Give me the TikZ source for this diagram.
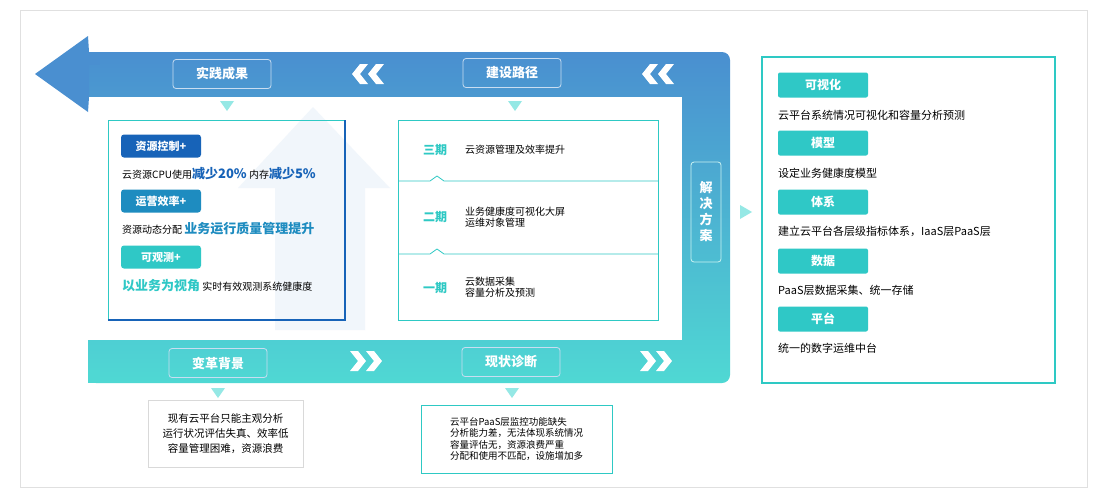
\documentclass[tikz,border=0pt]{standalone}
\usepackage{fontspec}
\setmainfont{Noto Sans CJK SC}
\usetikzlibrary{shadings}
\definecolor{bandblue}{HTML}{4A8FD0}
\definecolor{bandteal}{HTML}{4FD8D3}
\definecolor{tealc}{HTML}{2EC9C4}
\definecolor{tagA}{HTML}{1763B8}
\definecolor{tagB}{HTML}{1E8CC0}
\definecolor{tagC}{HTML}{2FC8C6}
\tikzset{
  lbl/.style={draw=white!70!bandblue,rounded corners=3pt,line width=0.8pt,text=white,font=\fontsize{13}{13}\selectfont\bfseries,inner sep=0pt,minimum width=98pt,minimum height=29pt},
  tag/.style={rounded corners=3pt,text=white,font=\fontsize{11}{11}\selectfont\bfseries,inner sep=0pt,minimum width=80pt,minimum height=23pt},
  rtag/.style={fill=tagC,rounded corners=2pt,text=white,font=\fontsize{12}{12}\selectfont\bfseries,inner sep=0pt,minimum width=90pt,minimum height=25pt},
  body/.style={font=\fontsize{10}{12}\selectfont,anchor=west,inner sep=0pt},
  tri/.style={fill=bandteal!60,draw=none},
  chevl/.pic={\fill[white] (-7,-10) -- (1,-10) -- (-7,0) -- (1,10) -- (-7,10) -- (-15,0) -- cycle;
              \fill[white] (9,-10) -- (17,-10) -- (9,0) -- (17,10) -- (9,10) -- (1,0) -- cycle;},
  chevr/.pic={\fill[white] (-17,-10) -- (-9,-10) -- (-1,0) -- (-9,10) -- (-17,10) -- (-9,0) -- cycle;
              \fill[white] (-1,-10) -- (7,-10) -- (15,0) -- (7,10) -- (-1,10) -- (7,0) -- cycle;}
}
\newcommand{\hl}[2]{{\fontsize{13}{13}\selectfont\bfseries\color{#1}#2}}
\begin{document}
\begin{tikzpicture}[x=1pt,y=-1pt]
\useasboundingbox (0,0) rectangle (1106,501);
\fill[white] (0,0) rectangle (1106,501);
\draw[black!12] (20,10) rectangle (1087,487);
% frame band
\shade[top color=bandblue,bottom color=bandteal,rounded corners=8pt] (88,52) -- (730,52) -- (730,383) -- (88,383) [sharp corners] -- cycle;
\fill[bandteal] (88,370) rectangle (100,383);
\fill[bandblue] (88,52) rectangle (100,65);
\fill[white] (88,97) rectangle (682,340);
\fill[bandblue] (89,52) -- (88,36) -- (35,74) -- (88,112) -- (89,97) -- cycle;
% labels
\node[lbl] (sj) at (222,74) {实践成果};
\node[lbl] (js) at (512,73) {建设路径};
\node[lbl] (bg) at (218,363) {变革背景};
\node[lbl] (xz) at (511,362) {现状诊断};
\node[draw=white!70!bandteal,rounded corners=3pt,line width=0.8pt,text=white,font=\fontsize{13}{16}\selectfont\bfseries,minimum width=30pt,minimum height=100pt,align=center,inner sep=0pt] (jj) at (706,212) {解\\决\\方\\案};
% chevrons
\pic at (367,74) {chevl};
\pic at (657,74) {chevl};
\pic at (367,361) {chevr};
\pic at (657,361) {chevr};
% triangles
\fill[tri] (220,101) -- (234,101) -- (227,111) -- cycle;
\fill[tri] (508,101) -- (522,101) -- (515,111) -- cycle;
\fill[tri] (211,388) -- (225,388) -- (218,398) -- cycle;
\fill[tri] (505,388) -- (519,388) -- (512,398) -- cycle;
\fill[tri] (740,205) -- (740,219) -- (752,212) -- cycle;
% left box
\fill[white] (108,120) rectangle (345,320);
\fill[bandblue!25,opacity=0.3] (313,107) -- (390,188) -- (365,188) -- (365,330) -- (275,330) -- (275,188) -- (238,188) -- cycle;
\draw[line width=1pt,tealc] (108,320) -- (108,120) -- (345,120);
\draw[line width=1.2pt,tagA] (108,320) -- (345,320) -- (345,120);
\node[tag,fill=tagA] (t1) at (161,146) {资源控制+};
\node[body] (l1) at (122,174) {云资源CPU使用\hl{tagA}{减少20\%} 内存\hl{tagA}{减少5\%}};
\node[tag,fill=tagB] (t2) at (161,201) {运营效率+};
\node[body] (l2) at (122,229) {资源动态分配 \hl{tagB}{业务运行质量管理提升}};
\node[tag,fill=tagC] (t3) at (161,257) {可观测+};
\node[body] (l3) at (122,286) {\hl{tagC}{以业务为视角} 实时有效观测系统健康度};
% middle box
\draw[tealc,line width=0.8pt] (398,120) rectangle (658,320);
\draw[tealc,line width=0.8pt] (398,181) -- (430,181) -- (437,176) -- (444,181) -- (658,181);
\draw[tealc,line width=0.8pt] (398,254) -- (430,254) -- (437,249) -- (444,254) -- (658,254);
\node[text=tealc,font=\fontsize{12}{12}\selectfont\bfseries,inner sep=0pt] (p3) at (435,150) {三期};
\node[text=tealc,font=\fontsize{12}{12}\selectfont\bfseries,inner sep=0pt] (p2) at (435,217) {二期};
\node[text=tealc,font=\fontsize{12}{12}\selectfont\bfseries,inner sep=0pt] (p1) at (435,288) {一期};
\node[body,align=left,font=\fontsize{10}{11}\selectfont] (d3) at (465,150) {云资源管理及效率提升};
\node[body,align=left,font=\fontsize{10}{11}\selectfont] (d2) at (465,217) {业务健康度可视化大屏\\运维对象管理};
\node[body,align=left,font=\fontsize{10}{11}\selectfont] (d1) at (465,287) {云数据采集\\容量分析及预测};
% right box
\draw[tealc,line width=1.5pt] (762,57) rectangle (1055,383);
\node[rtag] (r1) at (823,85) {可视化};
\node[body,font=\fontsize{11}{11}\selectfont] (s1) at (778,115) {云平台系统情况可视化和容量分析预测};
\node[rtag] (r2) at (823,143) {模型};
\node[body,font=\fontsize{11}{11}\selectfont] (s2) at (778,173) {设定业务健康度模型};
\node[rtag] (r3) at (823,202) {体系};
\node[body,font=\fontsize{11}{11}\selectfont] (s3) at (778,231) {建立云平台各层级指标体系，IaaS层PaaS层};
\node[rtag] (r4) at (823,261) {数据};
\node[body,font=\fontsize{11}{11}\selectfont] (s4) at (778,290) {PaaS层数据采集、统一存储};
\node[rtag] (r5) at (823,319) {平台};
\node[body,font=\fontsize{11}{11}\selectfont] (s5) at (778,348) {统一的数字运维中台};
% bottom boxes
\node[draw=black!15,line width=0.8pt,minimum width=155pt,minimum height=67pt,align=center,font=\fontsize{10.5}{15}\selectfont,inner sep=0pt] (b1) at (225.5,433.5) {现有云平台只能主观分析\\运行状况评估失真、效率低\\容量管理困难，资源浪费};
\node[draw=tealc,line width=0.8pt,minimum width=191pt,minimum height=68pt,align=left,font=\fontsize{9.5}{11.5}\selectfont,inner sep=0pt] (b2) at (516.5,439) {云平台PaaS层监控功能缺失\\分析能力差，无法体现系统情况\\容量评估无，资源浪费严重\\分配和使用不匹配，设施增加多};
\end{tikzpicture}
\end{document}
